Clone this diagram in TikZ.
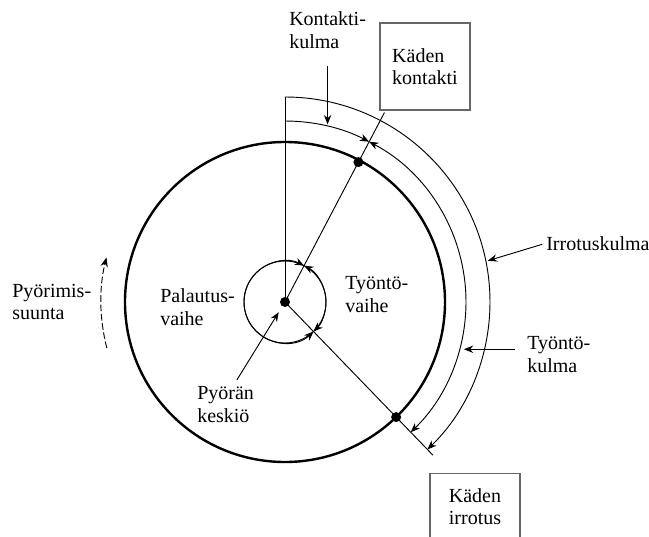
\documentclass[tikz,border=0pt]{standalone}
\usepackage{fontspec}
\setmainfont{Liberation Serif}
\usetikzlibrary{arrows.meta,calc,positioning}

\begin{document}
\begin{tikzpicture}[
    x=0.75pt, y=0.75pt,
    >={Stealth[length=7pt,width=5.5pt]},
    lbl/.style={inner sep=0pt, align=left, anchor=north west, font=\fontsize{15}{17}\selectfont},
    box/.style={rectangle, draw=black!60, line width=1pt, minimum width=67.5pt, font=\fontsize{15}{17}\selectfont, align=left},
    wheel/.style={line width=1.8pt},
    fineline/.style={line width=0.7pt},
    dot/.style={circle, fill, inner sep=0pt, minimum size=7.5pt}
]
    \useasboundingbox (-285,-234) rectangle (364,302);
    \clip (-285,-234) rectangle (364,302);

    % Wheel and hub
    \coordinate (C) at (0,0);
    \draw[wheel] (C) circle[radius=160];
    \draw[fineline] (C) circle[radius=41];

    % Radial lines
    \coordinate (top) at (90:205);
    \coordinate (cend) at (62.3:214);
    \coordinate (rend) at (-46:213);
    \draw[fineline] (C) -- (top);
    \draw[fineline] (C) -- (cend);
    \draw[fineline] (C) -- (rend);

    % Angle arcs
    \draw[fineline,->] (90:181) arc[start angle=90, end angle=62.3, radius=181];
    \draw[fineline,<->] (62.3:181) arc[start angle=62.3, end angle=-46, radius=181];
    \draw[fineline,->] (90:205) arc[start angle=90, end angle=-46, radius=205];

    % Phase arcs on the hub circle
    \draw[fineline,<->] (62.3:41) arc[start angle=62.3, end angle=-46, radius=41];
    \draw[fineline,<->] (-46:41) arc[start angle=-46, end angle=-297.7, radius=41];

    % Direction of rotation
    \draw[fineline,dash pattern=on 5pt off 2pt,->] (194.5:184) arc[start angle=194.5, end angle=166, radius=184];

    % Dots
    \node[dot] (hub) at (C) {};
    \node[dot] (contact) at (62.3:158) {};
    \node[dot] (release) at (-46:160) {};

    % Boxes
    \node[box, minimum height=65.25pt] (kontakti) at (140,235.5) {Käden\\kontakti};
    \node[box, minimum height=49.5pt, anchor=north] (irrotus) at (190,-171) {Käden\\irrotus};

    % Labels
    \node[lbl] (kkulma) at (4,290.5) {Kontakti-\\kulma};
    \node[lbl, anchor=base west] (ikulma) at (261,52) {Irrotuskulma};
    \node[lbl] (tkulma) at (242,-34.5) {Työntö-\\kulma};
    \node[lbl] (tvaihe) at (60,25.5) {Työntö-\\vaihe};
    \node[lbl] (pvaihe) at (-125,13.5) {Palautus-\\vaihe};
    \node[lbl] (suunta) at (-273,18.5) {Pyörimis-\\suunta};
    \node[lbl] (keskio) at (-88,-84.5) {Pyörän\\keskiö};

    % Label arrows
    \coordinate (kktip) at (77.4:182);
    \coordinate (iktip) at (11.5:207);
    \coordinate (tktip) at (-14.8:185);
    \draw[fineline,->, shorten <=13pt] (kkulma.south) -- (kkulma.south |- kktip);
    \draw[fineline,->, shorten <=3pt] (ikulma.west) -- (iktip);
    \draw[fineline,->, shorten <=9pt] (tkulma.west |- tktip) -- (tktip);
    \draw[fineline,->, shorten >=9pt] ([xshift=8.5pt,yshift=5pt]keskio.north) -- (hub.center);
\end{tikzpicture}
\end{document}
